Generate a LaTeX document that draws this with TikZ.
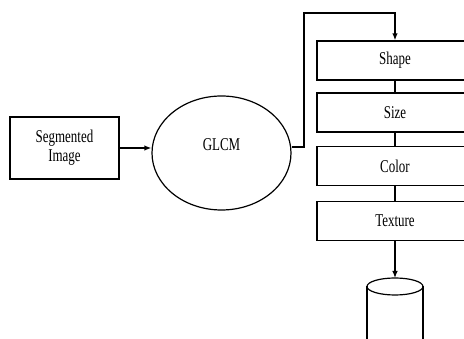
\documentclass[tikz,border=0pt]{standalone}
\usepackage{fontspec}
\setmainfont[FakeStretch=0.72]{Liberation Serif}
\usepackage{tikz}
\usetikzlibrary{shapes.geometric,arrows.meta}

\begin{document}
\begin{tikzpicture}[x=1pt,y=-1pt,>={Latex[length=7pt,width=5.5pt]},
        every node/.style = {font=\fontsize{18}{19}\selectfont},
        feat/.style = {draw, line width=1.2pt, minimum width=156pt, minimum height=39pt, inner sep=0pt},
        link/.style = {line width=1.8pt}]
        \useasboundingbox (0,0) rectangle (464,339);
        \clip (0,0) rectangle (464,339);

        % Input and GLCM
        \node[draw, line width=1.2pt, minimum width=109pt, minimum height=62pt, inner sep=0pt, align=center] (seg) at (64.5,148) {Segmented\\Image};
        \node[draw, ellipse, line width=1.2pt, minimum width=139pt, minimum height=114pt, inner sep=0pt] (glcm) at (221.5,153) {\raisebox{16pt}{GLCM}};
        \draw[link, ->] (seg.east) -- (seg.east -| glcm.west);

        % Features
        \node[feat] (shape) at (395,60.5) {Shape};
        \node[feat] (size) at (395,112.5) {Size};
        \node[feat] (color) at (395,166) {Color};
        \node[feat] (texture) at (395,221) {Texture};
        \draw[line width=1.2pt] (shape) -- (size) (size) -- (color) (color) -- (texture);

        \coordinate (out) at (304,147);
        \coordinate (top) at (304,13);
        \draw[link, ->] (glcm.east |- out) -- (out) -- (top) -- (top -| shape.north) -- (shape.north);

        % Database
        \coordinate (db) at (395,278);
        \draw[line width=1.2pt] (395,286.5) ellipse [x radius=28, y radius=8.5];
        \draw[line width=1.2pt] (367,286.5) -- (367,345) (423,286.5) -- (423,345);
        \draw[line width=1.2pt, ->] (texture) -- (db);
    \end{tikzpicture}
\end{document}
